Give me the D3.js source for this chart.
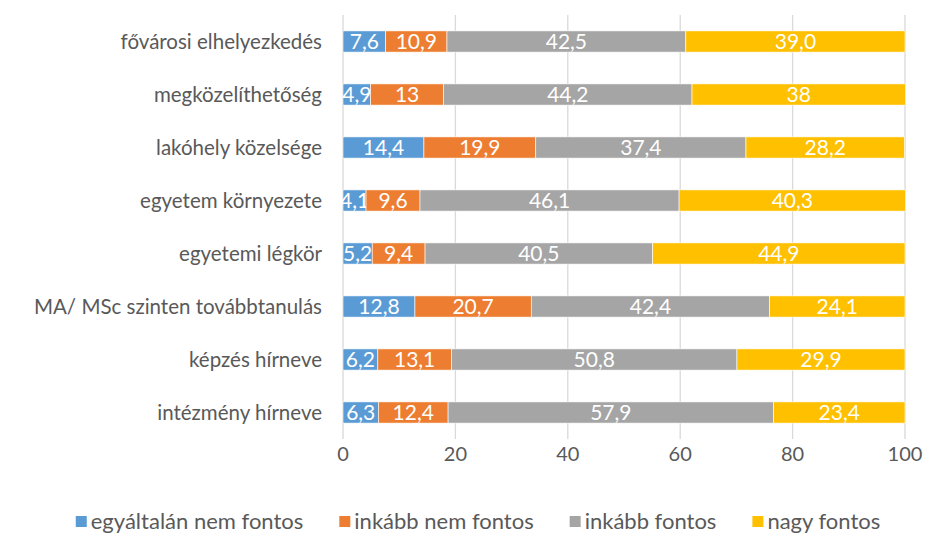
<!DOCTYPE html>
<meta charset="utf-8">
<style>
body { margin: 0; background: #fff; }
text { font-family: Lato, "Open Sans", sans-serif; }
.grid line { stroke: #d9d9d9; stroke-width: 1.3px; }
.cat { fill: #595959; font-size: 20.5px; }
.tick-lbl { fill: #595959; font-size: 20px; }
.val { fill: #fff; font-size: 21px; }
.leg text { fill: #595959; font-size: 22px; }
</style>
<svg width="927" height="533"></svg>
<script src="https://cdn.jsdelivr.net/npm/d3@7"></script>
<script>
// data
var categories = ["fővárosi elhelyezkedés", "megközelíthetőség", "lakóhely közelsége",
  "egyetem környezete", "egyetemi légkör", "MA/ MSc szinten továbbtanulás",
  "képzés hírneve", "intézmény hírneve"];
var seriesNames = ["egyáltalán nem fontos", "inkább nem fontos", "inkább fontos", "nagy fontos"];
var egyaltalanNem = [7.6, 4.9, 14.4, 4.1, 5.2, 12.8, 6.2, 6.3];
var inkabbNem = [10.9, 13, 19.9, 9.6, 9.4, 20.7, 13.1, 12.4];
var inkabbFontos = [42.5, 44.2, 37.4, 46.1, 40.5, 42.4, 50.8, 57.9];
var nagyFontos = [39.0, 38, 28.2, 40.3, 44.9, 24.1, 29.9, 23.4];
// labels as printed in the source (some with a trailing ",0")
var nagyLabels = ["39,0", "38", "28,2", "40,3", "44,9", "24,1", "29,9", "23,4"];
var xTicks = [0, 20, 40, 60, 80, 100];
var colors = ["#5b9bd5", "#ed7d31", "#a5a5a5", "#ffc000"];

var svg = d3.select("svg"),
    margin = {top: 15, right: 22, bottom: 94, left: 343},
    width = 927 - margin.left - margin.right,
    height = 533 - margin.top - margin.bottom,
    g = svg.append("g").attr("transform", "translate(" + margin.left + "," + margin.top + ")");

var x = d3.scaleLinear().domain([0, 100]).range([0, width]);
var y = d3.scaleBand().domain(categories).range([0, height]).paddingInner(0.6).paddingOuter(0.3);

// rows for the stack
var rows = categories.map(function(c, i) {
  var r = {cat: c};
  r[seriesNames[0]] = egyaltalanNem[i];
  r[seriesNames[1]] = inkabbNem[i];
  r[seriesNames[2]] = inkabbFontos[i];
  r[seriesNames[3]] = nagyFontos[i];
  r.idx = i;
  return r;
});
var stack = d3.stack().keys(seriesNames)(rows);

// gridlines
g.append("g").attr("class", "grid")
  .selectAll("line").data(xTicks).enter().append("line")
  .attr("x1", function(d) { return x(d); })
  .attr("x2", function(d) { return x(d); })
  .attr("y1", 0).attr("y2", height);

// tick labels
g.append("g").selectAll("text").data(xTicks).enter().append("text")
  .attr("class", "tick-lbl")
  .attr("x", function(d) { return x(d); })
  .attr("y", height + 15)
  .attr("text-anchor", "middle")
  .attr("dy", "0.35em")
  .text(function(d) { return d; });

// category labels
g.append("g").selectAll("text").data(categories).enter().append("text")
  .attr("class", "cat")
  .attr("x", -21)
  .attr("y", function(d) { return y(d) + y.bandwidth() / 2; })
  .attr("dy", "0.35em")
  .attr("text-anchor", "end")
  .text(function(d) { return d; });

// bars
var layer = g.selectAll(".layer").data(stack).enter().append("g")
  .attr("class", "layer")
  .attr("fill", function(d, i) { return colors[i]; });

layer.selectAll("rect").data(function(d) { return d; }).enter().append("rect")
  .attr("x", function(d) { return x(d[0]); })
  .attr("y", function(d) { return y(d.data.cat); })
  .attr("width", function(d) { return x(d[1]) - x(d[0]); })
  .attr("height", y.bandwidth())
  .attr("stroke", "#fff")
  .attr("stroke-width", 0.6);

layer.selectAll("text").data(function(d, si) {
    return d.map(function(p) { return {p: p, s: si}; });
  }).enter().append("text")
  .attr("class", "val")
  .attr("x", function(d) { return (x(d.p[0]) + x(d.p[1])) / 2; })
  .attr("y", function(d) { return y(d.p.data.cat) + y.bandwidth() / 2; })
  .attr("dy", "0.36em")
  .attr("text-anchor", "middle")
  .text(function(d) {
    if (d.s === 3) return nagyLabels[d.p.data.idx];
    var v = d.p[1] - d.p[0];
    return d3.format(".1f")(v).replace(/\.0$/, "").replace(".", ",");
  });

// legend
var leg = svg.append("g").attr("class", "leg");
var items = leg.selectAll("g").data(seriesNames).enter().append("g");
items.append("rect").attr("width", 11).attr("height", 11)
  .attr("fill", function(d, i) { return colors[i]; });
items.append("text").attr("x", 15).attr("y", 5.5).attr("dy", "0.35em")
  .text(function(d) { return d; });
var pos = 0, gap = 36;
items.each(function() {
  var w = this.getBBox().width;
  d3.select(this).attr("data-x", pos);
  pos += w + gap;
});
var total = pos - gap, start = 478 - total / 2;
items.attr("transform", function() {
  return "translate(" + (start + +this.getAttribute("data-x")) + "," + 516 + ")";
});
</script>
